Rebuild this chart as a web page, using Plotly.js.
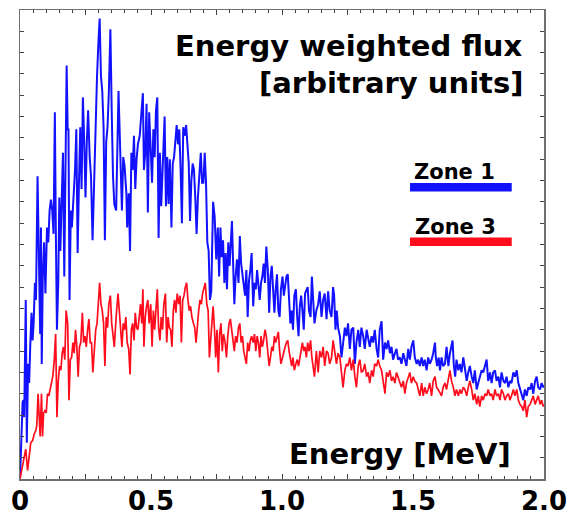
<!DOCTYPE html>
<html>
<head>
<meta charset="utf-8">
<script src="https://cdn.plot.ly/plotly-3.0.1.min.js"></script>
<style>
  html, body { margin: 0; padding: 0; background: #ffffff; }
  #chart { width: 571px; height: 516px; }
</style>
</head>
<body>
<div id="chart"></div>
<script>
// Energy axis tick positions and labels (MeV)
var xTickVals = [0, 0.25, 0.5, 0.75, 1.0, 1.25, 1.5, 1.75, 2.0];
var xTickText = ['0', '', '0.5', '', '1.0', '', '1.5', '', '2.0'];

// Zone 1 (blue): energy [MeV] and energy weighted flux [arbitrary units]
var zone1Energy = [
  0.000,0.003,0.010,0.013,0.016,0.022,0.026,0.031,0.035,0.039,0.044,0.048,0.052,0.057,0.061,0.067,0.072,0.077,0.080,0.083,
  0.087,0.092,0.097,0.103,0.108,0.113,0.118,0.123,0.128,0.133,0.137,0.141,0.146,0.150,0.154,0.159,0.164,0.169,0.173,0.178,
  0.182,0.185,0.189,0.194,0.198,0.204,0.210,0.215,0.220,0.225,0.230,0.235,0.240,0.245,0.250,0.255,0.260,0.266,0.271,0.277,
  0.283,0.290,0.294,0.299,0.304,0.309,0.314,0.319,0.324,0.329,0.334,0.339,0.345,0.350,0.355,0.360,
  0.367,0.376,0.384,0.389,0.394,0.399,0.406,0.409,0.415,0.420,0.425,0.430,0.435,0.440,0.445,0.450,0.457,0.463,0.469,0.473,
  0.478,0.483,0.488,0.493,0.499,0.504,0.509,0.514,0.519,0.524,0.529,0.534,0.539,0.547,0.552,0.557,0.562,0.567,0.572,0.578,
  0.583,0.588,0.593,0.598,0.603,0.608,0.613,0.618,0.623,0.628,0.634,0.639,0.644,0.649,0.654,0.659,0.664,0.669,0.674,0.679,
  0.684,0.690,0.695,0.700,0.705,0.710,0.715,0.720,0.725,
  0.730,0.737,0.743,0.749,0.755,0.760,0.765,0.770,0.775,0.780,0.785,0.790,0.795,0.800,0.805,0.809,0.813,0.818,0.823,0.828,
  0.834,0.839,0.844,0.849,0.854,0.859,0.864,0.869,0.874,0.879,0.884,0.890,0.895,0.900,0.905,0.910,0.915,0.920,0.925,0.930,
  0.935,0.940,0.946,0.951,0.956,0.961,0.966,0.971,0.976,0.981,0.986,0.991,0.996,1.002,1.007,1.012,1.017,1.022,1.027,1.032,
  1.037,1.042,1.047,1.053,1.058,1.063,1.068,1.073,1.078,1.083,1.088,1.093,1.098,1.103,1.109,1.114,1.119,1.124,
  1.131,1.138,1.144,1.151,1.157,1.163,1.170,1.176,1.182,1.189,1.195,1.199,1.204,1.209,1.214,1.221,1.227,1.233,1.240,1.246,
  1.252,1.259,1.265,1.272,1.278,1.284,1.291,1.297,1.303,1.310,1.316,1.323,1.329,1.335,1.342,1.348,1.354,1.361,1.367,1.373,
  1.380,1.386,1.393,1.399,1.405,1.412,1.418,1.424,1.431,1.437,1.443,1.450,1.456,1.463,1.469,1.475,1.482,1.488,1.494,1.501,
  1.507,1.514,1.520,1.526,
  1.533,1.539,1.545,1.552,1.558,1.564,1.571,1.577,1.584,1.587,1.592,1.598,1.603,1.609,1.615,1.622,1.628,1.635,1.641,1.647,
  1.651,1.656,1.661,1.666,1.673,1.679,1.685,1.692,1.698,1.705,1.711,1.717,1.724,1.730,1.736,1.743,1.749,1.755,1.762,1.768,
  1.775,1.781,1.787,1.794,1.800,1.806,1.813,1.819,1.826,1.832,1.838,1.845,1.851,1.857,1.864,1.870,1.876,1.883,1.889,1.896,
  1.902,1.908,1.915,1.921,1.927,1.934,1.940,1.947,1.953,1.959,1.966,1.972,1.978,1.985,1.991,1.997,2.000
];
var zone1Flux = [
  0.0,1.4,3.6,3.7,2.9,8.4,1.7,5.4,4.5,6.2,7.8,6.5,7.3,9.2,8.4,14.2,9.2,6.8,11.8,5.4,
  9.5,11.1,8.7,11.8,11.1,12.6,13.1,12.6,11.5,17.2,11.4,7.0,9.2,13.2,10.7,12.5,15.3,9.5,14.7,19.4,
  16.4,16.4,8.4,12.6,11.8,13.2,14.5,16.4,10.6,13.9,16.5,13.6,17.9,15.9,13.2,15.8,17.3,15.1,14.2,11.2,
  14.3,17.3,18.9,20.4,21.6,18.9,18.2,16.5,11.2,15.8,16.5,18.1,21.1,17.3,14.2,12.9,
  12.6,18.2,15.3,12.6,15.1,14.7,13.4,11.8,13.4,10.7,15.3,14.5,16.1,13.6,15.0,15.7,16.1,17.0,18.1,14.5,
  15.3,17.6,12.5,17.2,15.7,13.9,16.4,15.1,17.3,17.9,11.3,15.3,12.8,15.3,17.0,12.8,15.1,12.9,15.0,11.8,
  14.8,15.1,16.1,16.6,15.7,16.4,14.5,12.0,16.5,16.1,16.6,15.7,14.8,12.1,14.0,14.8,14.5,13.2,11.5,13.2,
  14.3,15.3,13.9,13.9,15.3,13.9,11.1,10.7,8.4,
  8.8,13.0,12.3,10.3,11.8,9.5,11.8,10.4,11.2,9.2,10.6,8.9,11.1,10.0,11.4,12.1,10.3,8.2,9.5,10.3,
  9.2,11.4,10.1,9.6,9.0,8.6,9.8,7.6,9.3,9.8,10.6,8.1,9.2,8.9,9.8,9.2,8.4,9.2,9.5,10.1,
  9.2,10.9,9.8,7.8,9.5,10.0,8.9,7.8,8.9,9.6,7.9,7.6,8.9,9.5,8.6,9.2,9.5,9.6,8.6,7.3,
  7.9,7.0,8.6,8.9,7.6,6.7,8.1,8.6,7.9,7.0,8.7,8.9,9.0,7.9,7.6,9.5,8.2,7.3,
  7.9,8.2,8.8,7.6,8.4,8.7,7.5,8.8,7.9,7.6,9.0,8.6,7.0,7.9,7.1,6.7,5.7,6.4,7.1,6.7,
  7.3,6.1,7.0,7.1,5.4,6.4,7.0,6.2,7.1,6.7,6.1,7.0,6.5,6.2,6.7,6.4,7.0,6.1,5.7,7.0,
  7.4,5.6,6.4,6.1,6.5,5.9,6.2,5.6,5.9,6.1,5.6,5.7,5.4,5.9,5.6,5.3,6.1,5.6,6.2,6.5,
  5.7,5.4,5.6,5.3,
  5.7,5.3,5.6,5.1,5.7,5.4,5.6,5.9,6.4,5.7,5.3,5.7,5.1,5.7,5.3,5.4,6.2,5.3,5.9,6.4,
  6.5,5.3,4.8,5.6,5.1,5.4,5.0,5.7,5.1,4.6,5.0,5.3,4.8,4.5,5.1,4.2,4.5,4.8,5.1,5.0,
  5.3,5.6,4.6,5.0,4.5,5.0,5.1,4.6,4.8,4.3,5.0,4.6,4.5,4.8,4.3,4.6,4.5,5.0,4.8,5.1,
  4.5,4.2,3.9,3.7,4.2,3.9,4.3,4.2,4.5,4.0,4.6,4.8,4.3,4.2,4.5,4.3,4.4
];

// Zone 3 (red): energy [MeV] and energy weighted flux [arbitrary units]
var zone3Energy = [
  0.000,0.010,0.016,0.022,0.029,0.035,0.041,0.048,0.054,0.061,0.064,0.069,0.073,0.077,0.082,0.086,0.090,0.095,0.100,0.105,
  0.110,0.115,0.120,0.125,0.131,0.136,0.141,0.146,0.151,0.156,0.161,0.166,0.171,0.176,0.182,0.187,0.192,0.197,0.202,0.207,
  0.212,0.217,0.222,0.227,0.232,0.238,0.243,0.248,0.253,0.258,0.263,0.268,0.273,0.278,0.283,0.289,0.294,0.299,0.304,0.309,
  0.314,0.319,0.324,0.329,0.334,0.339,0.345,0.350,0.355,0.360,
  0.367,0.374,0.379,0.384,0.389,0.394,0.399,0.404,0.409,0.415,0.420,0.425,0.430,0.435,0.440,0.445,0.450,0.455,0.460,0.465,
  0.469,0.473,0.478,0.483,0.488,0.493,0.499,0.504,0.509,0.514,0.519,0.524,0.529,0.534,0.539,0.544,0.549,0.555,0.560,0.565,
  0.570,0.575,0.580,0.585,0.590,0.595,0.600,0.606,0.611,0.616,0.621,0.626,0.631,0.636,0.641,0.646,0.651,0.656,0.662,0.667,
  0.672,0.677,0.682,0.687,0.692,0.697,0.702,0.707,0.713,0.718,0.723,
  0.730,0.737,0.742,0.747,0.752,0.757,0.762,0.767,0.772,0.777,0.783,0.788,0.793,0.798,0.803,0.808,0.813,0.818,0.823,0.828,
  0.834,0.839,0.844,0.849,0.854,0.859,0.864,0.869,0.874,0.879,0.884,0.890,0.895,0.900,0.905,0.910,0.915,0.920,0.925,0.930,
  0.935,0.940,0.946,0.951,0.956,0.961,0.966,0.971,0.976,0.981,0.986,0.991,0.996,1.002,1.007,1.012,1.017,1.022,1.027,1.032,
  1.037,1.042,1.047,1.053,1.058,1.063,1.068,1.073,1.078,1.083,1.088,1.093,1.098,1.103,1.109,1.114,1.119,1.124,
  1.131,1.138,1.144,1.151,1.157,1.163,1.170,1.176,1.182,1.189,1.195,1.201,1.208,1.214,1.221,1.227,1.233,1.240,1.246,1.252,
  1.259,1.265,1.272,1.278,1.284,1.291,1.297,1.303,1.310,1.316,1.323,1.329,1.335,1.342,1.348,1.354,1.361,1.367,1.373,1.380,
  1.386,1.393,1.399,1.405,1.412,1.418,1.424,1.431,1.437,1.443,1.450,1.456,1.463,1.469,1.475,1.482,1.488,1.494,1.501,1.507,
  1.514,1.520,1.526,
  1.533,1.539,1.545,1.552,1.558,1.564,1.571,1.577,1.584,1.590,1.596,1.603,1.609,1.615,1.622,1.628,1.635,1.641,1.647,1.654,
  1.660,1.666,1.673,1.679,1.685,1.692,1.698,1.705,1.711,1.717,1.724,1.730,1.736,1.743,1.749,1.755,1.762,1.768,1.775,1.781,
  1.787,1.794,1.800,1.806,1.813,1.819,1.826,1.832,1.838,1.845,1.851,1.857,1.864,1.870,1.876,1.883,1.889,1.896,1.902,1.908,
  1.915,1.921,1.927,1.934,1.940,1.947,1.953,1.959,1.966,1.972,1.978,1.985,1.991,1.997,2.000
];
var zone3Flux = [
  0.0,0.7,1.1,1.4,0.4,1.2,1.7,1.8,2.1,2.3,2.5,4.0,2.8,2.0,4.0,2.0,3.1,3.2,3.1,4.0,
  3.9,4.3,4.5,4.8,5.6,6.8,2.9,4.6,5.3,5.1,5.9,6.2,5.6,7.9,7.3,3.7,5.6,5.7,6.4,5.9,
  7.0,6.2,4.8,6.2,6.4,7.8,6.4,6.7,6.2,7.0,7.5,6.4,6.4,5.0,6.2,7.0,7.3,8.2,9.2,8.2,
  7.9,7.3,5.3,7.6,7.1,8.2,8.6,7.3,6.7,6.2,
  7.6,8.7,7.9,7.0,6.2,7.3,7.0,7.6,6.4,6.1,4.9,7.0,7.3,6.5,7.8,7.1,7.0,7.6,8.2,7.3,
  8.9,6.2,7.6,8.1,8.4,7.3,8.2,6.2,7.9,7.0,8.2,8.9,7.1,6.5,7.6,7.0,8.2,8.7,6.4,7.6,
  7.1,7.0,6.2,7.9,8.4,7.8,8.7,8.2,8.6,6.4,8.4,8.6,9.0,9.2,8.4,7.9,8.1,7.6,7.3,7.1,
  6.4,7.3,7.9,8.4,8.2,8.7,8.9,9.2,8.2,7.9,5.7,
  6.7,8.1,7.1,5.7,7.0,5.0,6.8,7.3,6.0,6.8,6.4,5.7,6.7,7.3,7.5,7.0,6.7,6.0,6.7,6.4,
  7.1,7.3,6.4,6.7,6.0,5.7,5.4,6.4,6.0,6.5,6.7,6.4,6.8,6.0,6.7,6.4,5.7,6.7,6.2,6.5,
  7.0,6.7,6.0,5.3,5.7,6.2,6.0,6.7,6.4,6.7,6.9,6.0,5.4,5.7,6.0,6.2,6.4,6.5,6.0,5.6,
  5.3,5.7,5.1,5.4,5.6,5.3,5.7,6.0,6.4,6.0,6.2,5.7,6.4,6.0,6.5,5.7,5.3,4.8,
  6.0,5.0,6.0,5.7,6.2,5.3,6.0,5.9,5.4,5.7,6.5,6.0,5.4,5.9,5.7,5.0,4.3,5.1,5.4,5.3,
  5.7,5.1,5.6,4.8,4.3,5.3,5.6,5.0,5.1,5.4,4.8,5.0,4.5,5.1,4.8,5.4,5.3,5.6,5.3,5.1,
  4.5,4.0,5.0,4.8,5.1,4.6,4.8,4.5,5.0,4.8,4.5,4.3,4.6,4.0,4.5,4.8,5.0,4.5,4.8,4.6,
  4.5,4.2,3.9,
  4.5,3.9,4.3,4.0,4.2,4.5,3.9,4.6,4.8,4.3,4.2,4.0,3.9,4.3,4.5,4.2,4.8,5.1,4.6,4.3,
  3.9,4.2,3.9,4.2,4.0,4.3,4.2,3.9,4.3,4.6,4.2,3.7,4.0,3.5,3.9,3.4,3.9,3.7,4.0,3.9,
  4.2,3.9,4.0,3.7,4.2,3.9,4.0,3.7,4.2,4.0,3.7,3.9,4.0,3.7,3.9,4.2,3.9,4.2,3.7,3.5,
  3.4,3.2,3.7,2.9,3.4,3.5,3.7,3.9,3.5,3.7,3.9,3.5,3.7,3.4,3.5
];

var seriesNames = ['Zone 1', 'Zone 3'];
var seriesColors = ['#1212ff', '#ff0d1d'];

var boldFont = function (size) {
  return { family: 'DejaVu Sans, Liberation Sans, sans-serif', size: size, color: '#000000', weight: 'bold' };
};

var traces = [
  { x: zone1Energy, y: zone1Flux, type: 'scatter', mode: 'lines', name: seriesNames[0],
    line: { color: seriesColors[0], width: 2 }, hoverinfo: 'skip' },
  { x: zone3Energy, y: zone3Flux, type: 'scatter', mode: 'lines', name: seriesNames[1],
    line: { color: seriesColors[1], width: 1.7 }, hoverinfo: 'skip' }
];

var axisCommon = {
  showline: true, linecolor: '#707070', linewidth: 1.5, mirror: 'ticks',
  ticks: 'inside', tickcolor: '#404040', tickwidth: 1,
  showgrid: false, zeroline: false, fixedrange: true
};

var layout = {
  width: 571, height: 516,
  margin: { l: 20, r: 27, t: 10, b: 37, pad: 0 },
  paper_bgcolor: '#ffffff', plot_bgcolor: '#ffffff',
  showlegend: false,
  xaxis: Object.assign({}, axisCommon, {
    range: [0, 2.0], tickmode: 'array', tickvals: xTickVals, ticktext: xTickText,
    ticklen: 5, tickfont: boldFont(26), ticklabelstandoff: -2,
    minor: { tickmode: 'linear', tick0: 0, dtick: 0.05, ticks: 'inside', ticklen: 3, tickcolor: '#404040', tickwidth: 1 }
  }),
  yaxis: Object.assign({}, axisCommon, {
    range: [0, 22], tickmode: 'linear', tick0: 0, dtick: 1, ticklen: 4, showticklabels: false
  }),
  shapes: [
    { type: 'rect', xref: 'paper', yref: 'paper', x0: 0.7443, x1: 0.9384, y0: 0.613, y1: 0.631,
      fillcolor: seriesColors[0], line: { width: 0 } },
    { type: 'rect', xref: 'paper', yref: 'paper', x0: 0.7443, x1: 0.9384, y0: 0.497, y1: 0.515,
      fillcolor: seriesColors[1], line: { width: 0 } }
  ],
  annotations: [
    { text: 'Energy weighted flux', xref: 'paper', yref: 'paper', x: 0.9637, y: 0.9235,
      xanchor: 'right', yanchor: 'middle', showarrow: false, font: boldFont(29) },
    { text: '[arbitrary units]', xref: 'paper', yref: 'paper', x: 0.9637, y: 0.8449,
      xanchor: 'right', yanchor: 'middle', showarrow: false, font: boldFont(29) },
    { text: 'Energy [MeV]', xref: 'paper', yref: 'paper', x: 0.9408, y: 0.0533,
      xanchor: 'right', yanchor: 'middle', showarrow: false, font: boldFont(29) },
    { text: seriesNames[0], xref: 'paper', yref: 'paper', x: 0.7475, y: 0.6539,
      xanchor: 'left', yanchor: 'middle', showarrow: false, font: boldFont(21) },
    { text: seriesNames[1], xref: 'paper', yref: 'paper', x: 0.7499, y: 0.5367,
      xanchor: 'left', yanchor: 'middle', showarrow: false, font: boldFont(21) }
  ]
};

Plotly.newPlot('chart', traces, layout, { displayModeBar: false, staticPlot: true });
</script>
</body>
</html>
